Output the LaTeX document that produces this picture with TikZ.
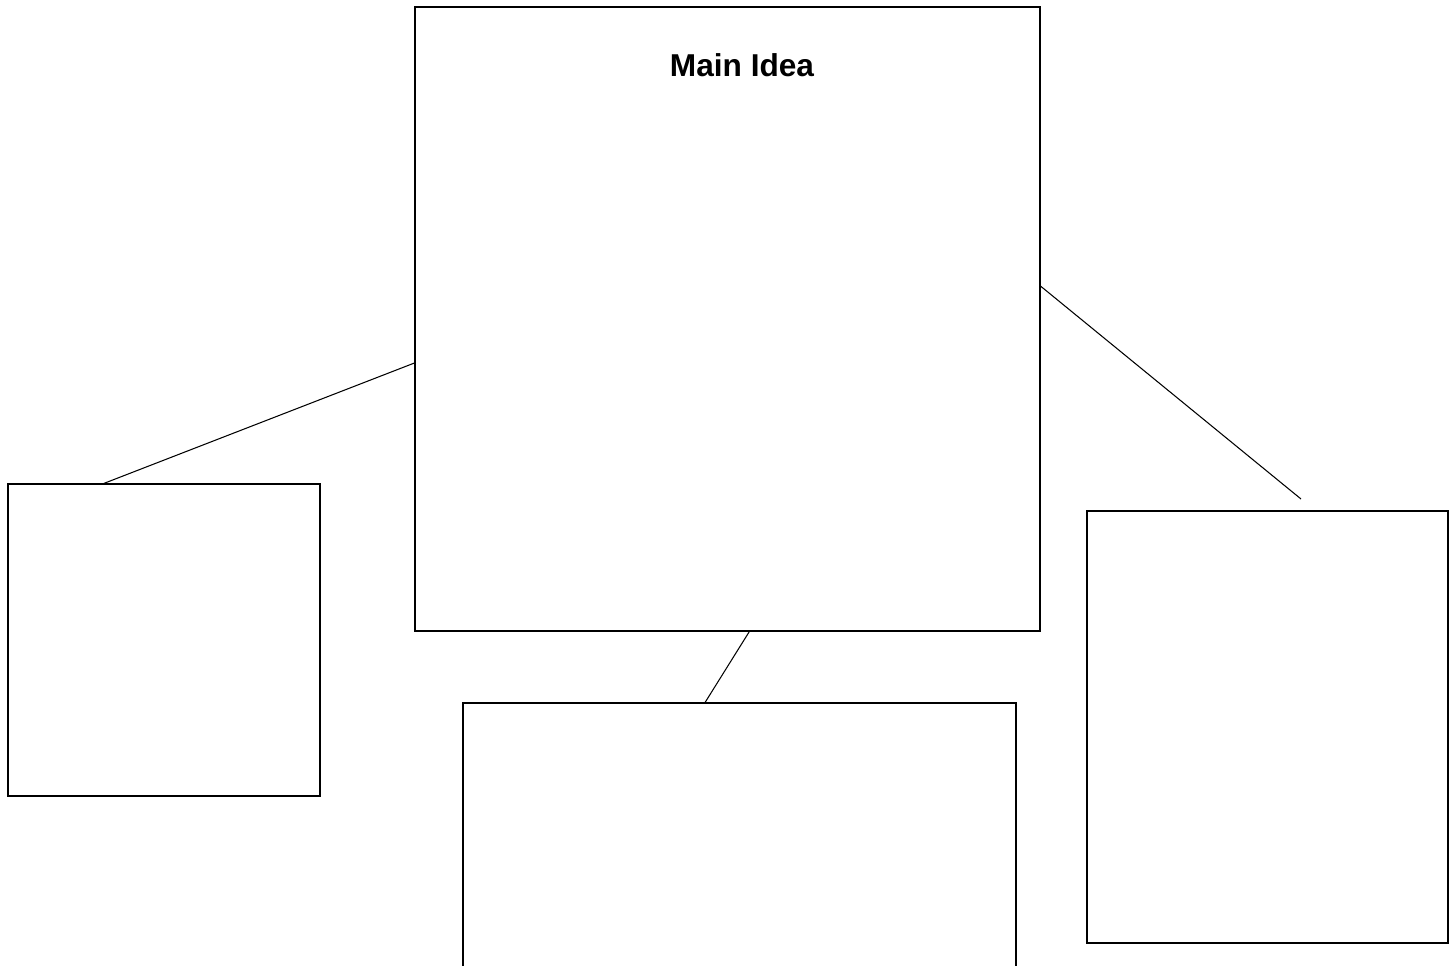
\documentclass[tikz,border=0pt]{standalone}
\usepackage{fontspec}
\setmainfont{Liberation Sans}
\usetikzlibrary{positioning}
\begin{document}
\begin{tikzpicture}[
    x=0.02cm, y=-0.02cm,
    every node/.style={font=\normalsize},
    box/.style={rectangle, draw, line width=0.7pt, fill=white, inner sep=0pt},
    title/.style={font=\fontsize{18}{22}\selectfont\bfseries, inner sep=0pt},
    link/.style={line width=0.6pt}
]
% -------------------------
% Page frame
% -------------------------
    \clip (0, 0) rectangle (1455, 966);
    \fill[white] (0, 0) rectangle (1455, 966);

% -------------------------
% Boxes
% -------------------------
    \node[box, minimum width=12.5cm, minimum height=12.48cm] (main) at (727.5, 319) {};
    \node[title] (mainTitle) at (742, 65.5) {Main Idea};

    \node[box, minimum width=6.24cm, minimum height=6.24cm] (leftBox) at (164, 640) {};
    \node[box, minimum width=7.22cm, minimum height=8.64cm] (rightBox) at (1267.5, 727) {};
    % Bottom box runs off the page
    \node[box, minimum width=11.06cm, minimum height=5.94cm] (bottomBox) at (739.5, 851.5) {};

% -------------------------
% Connectors
% -------------------------
    \coordinate (rightEnd) at (1301, 499);

    \draw[link] (leftBox.111) -- (main.188.2);
    \draw[link] (main.6.45) -- (rightEnd);
    \draw[link] (main.274.3) -- (bottomBox.103.4);
\end{tikzpicture}
\end{document}
